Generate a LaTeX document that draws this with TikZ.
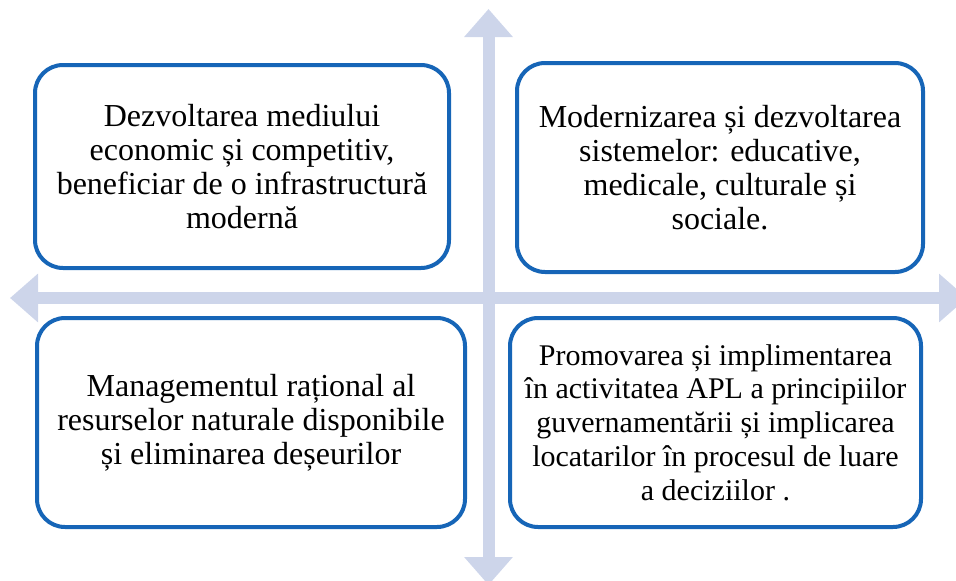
\documentclass[tikz,border=0pt]{standalone}
\usepackage{fontspec}
\setmainfont{Liberation Serif}
\usetikzlibrary{arrows.meta}
\definecolor{boxblue}{RGB}{22,101,183}
\definecolor{arrowfill}{RGB}{205,213,234}
\tikzset{
  card/.style={draw=boxblue, line width=4pt, fill=white, rounded corners=28pt,
    align=center, inner sep=0pt, font=\fontsize{32}{33.8}\selectfont},
  crossarrow/.style={draw=arrowfill, line width=12pt,
    -{Triangle[width=47pt,length=28pt]}},
}
\begin{document}
\begin{tikzpicture}[x=1pt,y=-1pt]
\useasboundingbox (0,0) rectangle (956,581);
\clip (0,0) rectangle (956,581);
\coordinate (c) at (488.5,298);
\coordinate (top) at (488.5,9);
\coordinate (bot) at (488.5,585);
\coordinate (lft) at (10,298);
\coordinate (rgt) at (967,298);
\draw[crossarrow] (c) -- (top);
\draw[crossarrow] (c) -- (bot);
\draw[crossarrow] (c) -- (lft);
\draw[crossarrow] (c) -- (rgt);
\node[card, minimum width=414pt, minimum height=203pt] (b1) at (242,166.5)
  {Dezvoltarea mediului\\economic și competitiv,\\beneficiar de o infrastructură\\modernă};
\node[card, minimum width=406pt, minimum height=209pt] (b2) at (720,167.5)
  {Modernizarea și dezvoltarea\\sistemelor: educative,\\medicale, culturale și\\sociale.};
\node[card, minimum width=428pt, minimum height=209pt] (b3) at (251,422.5)
  {Managementul rațional al\\resurselor naturale disponibile\\și eliminarea deșeurilor};
\node[card, minimum width=411pt, minimum height=209pt, font=\fontsize{30}{33.8}\selectfont] (b4) at (715.5,422.5)
  {Promovarea și implimentarea\\în activitatea APL a principiilor\\guvernamentării și implicarea\\locatarilor în procesul de luare\\a deciziilor .};
\end{tikzpicture}
\end{document}
